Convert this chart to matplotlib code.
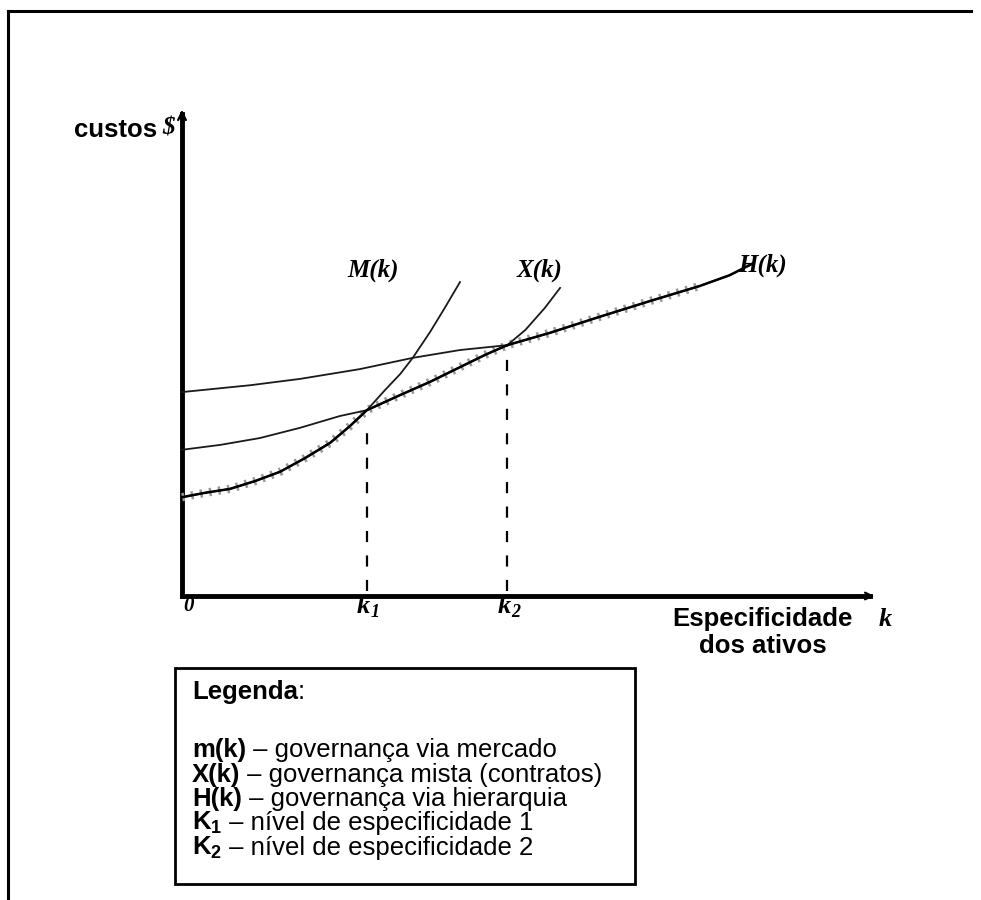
import matplotlib.pyplot as plt
from matplotlib.patches import Rectangle
from matplotlib.lines import Line2D

# curvas de custo (k, custo)
m_k = [0.0, 0.33, 0.69, 1.05, 1.41, 1.77, 2.13, 2.42, 2.66, 2.92, 3.14, 3.32, 3.57, 3.78, 4.00]
m_c = [2.02, 2.11, 2.19, 2.35, 2.54, 2.82, 3.13, 3.48, 3.80, 4.21, 4.54, 4.87, 5.40, 5.89, 6.42]
x_k = [0.0, 0.55, 1.12, 1.70, 2.27, 2.66, 3.14, 3.57, 4.00, 4.36, 4.68, 4.94, 5.22, 5.44]
x_c = [2.99, 3.09, 3.23, 3.44, 3.68, 3.80, 4.11, 4.38, 4.68, 4.93, 5.13, 5.44, 5.89, 6.30]
h_k = [0.0, 0.98, 1.70, 2.56, 3.32, 4.00, 4.68, 5.29, 6.01, 6.73, 7.45, 7.88, 8.20]
h_c = [4.17, 4.31, 4.44, 4.64, 4.87, 5.03, 5.13, 5.38, 5.71, 6.03, 6.34, 6.56, 6.79]
k1, k2 = 2.66, 4.68
curve_names = ['M(k)', 'X(k)', 'H(k)']

legend_rows = [('m(k)', ' – governança via mercado'),
               ('X(k)', ' – governança mista (contratos)'),
               ('H(k)', ' – governança via hierarquia'),
               (r'$\mathbf{K_1}$', ' – nível de especificidade 1'),
               (r'$\mathbf{K_2}$', ' – nível de especificidade 2')]

plt.rcParams['font.family'] = ['Liberation Sans', 'DejaVu Sans']
plt.rcParams['mathtext.fontset'] = 'custom'
plt.rcParams['mathtext.rm'] = 'Liberation Sans'
plt.rcParams['mathtext.bf'] = 'Liberation Sans:bold'

fs = 18.5
serif_bi = dict(family='Liberation Serif', weight='bold', style='italic')
fig = plt.figure(figsize=(9.81, 9.0), dpi=100)
over = fig.add_axes([0, 0, 1, 1])
over.set_xlim(0, 1)
over.set_ylim(0, 1)
over.axis('off')

# moldura externa
over.add_line(Line2D([8/981, 971/981], [1 - 11/900, 1 - 11/900], color='black', lw=2.2))
over.add_line(Line2D([8/981, 8/981], [1 - 11/900, 0], color='black', lw=2.2))

ax = fig.add_axes([182/981, 1 - 596/900, 695/981, 489/900])
ax.set_xlim(0, 10)
ax.set_ylim(0, 10)
ax.axis('off')

# eixos
ax.plot([0, 0], [0, 9.85], color='black', lw=3.5, clip_on=False, solid_capstyle='projecting')
ax.plot([0, 9.9], [0, 0], color='black', lw=3.5, clip_on=False, solid_capstyle='projecting')
ax.annotate('', xy=(0, 10), xytext=(0, 9.6),
            arrowprops=dict(arrowstyle='->', lw=1.6, color='black', mutation_scale=14))
ax.annotate('', xy=(10, 0), xytext=(9.6, 0),
            arrowprops=dict(arrowstyle='->', lw=1.6, color='black', mutation_scale=12))

# envoltória (menor custo)
env_k = m_k[:9] + x_k[6:11] + h_k[7:]
env_c = m_c[:9] + x_c[6:11] + h_c[7:]
ax.plot(env_k[:-2], env_c[:-2], color='0.6', lw=6, linestyle=(0, (0.3, 0.8)), clip_on=False)

# curvas
for ks, cs in [(m_k, m_c), (x_k, x_c), (h_k, h_c)]:
    ax.plot(ks, cs, color='0.1', lw=1.3, clip_on=False)
ax.plot(env_k, env_c, color='black', lw=1.8, clip_on=False)

# linhas tracejadas em k1 e k2
ax.plot([k1, k1], [0.1, x_c[5] - 0.2], color='black', lw=1.6, linestyle=(0, (5, 6)))
ax.plot([k2, k2], [0.1, x_c[10]], color='black', lw=1.6, linestyle=(0, (5, 6)))

# rótulos das curvas
for name, (lx, ly) in zip(curve_names, [(2.75, 6.67), (5.14, 6.67), (8.36, 6.76)]):
    ax.text(lx, ly, name, fontsize=18, ha='center', va='center', **serif_bi)

ax.text(0.09, -0.2, '0', fontsize=15, ha='center', va='center', **serif_bi)
for kv, sub in [(k1, '1'), (k2, '2')]:
    ax.text(kv - 0.05, -0.22, 'k', fontsize=19, ha='center', va='center', **serif_bi)
    ax.annotate(sub, xy=(kv - 0.05, -0.22), xytext=(5, -4), textcoords='offset points',
                fontsize=13, ha='left', va='center', annotation_clip=False, **serif_bi)
ax.text(10.12, -0.49, 'k', fontsize=19, ha='center', va='center', **serif_bi)
ax.text(8.35, -0.74, 'Especificidade\ndos ativos', fontsize=fs, weight='bold',
        ha='center', va='center', linespacing=1.15)
ax.text(-0.36, 9.53, 'custos', fontsize=fs, weight='bold', ha='right', va='center')
ax.text(-0.20, 9.57, '$', fontsize=18, ha='center', va='center', **serif_bi)

# caixa da legenda
over.add_patch(Rectangle((175/981, 1 - 884/900), 460/981, 216/900,
                         facecolor='white', edgecolor='black', lw=2))

tx = 192/981
rows_y = [690, 748, 773, 797, 821, 846]
fig.canvas.draw()
r = fig.canvas.get_renderer()
pairs = [('Legenda', ':')] + legend_rows
for (b, rest), yy in zip(pairs, rows_y):
    t = over.text(tx, 1 - (yy + 9)/900, b, fontsize=fs, weight='bold', va='baseline')
    bb = t.get_window_extent(renderer=r)
    x1 = over.transAxes.inverted().transform((bb.x1, bb.y0))[0]
    over.text(x1, 1 - (yy + 9)/900, rest, fontsize=fs, va='baseline')

fig.savefig('out.png', dpi=100)
